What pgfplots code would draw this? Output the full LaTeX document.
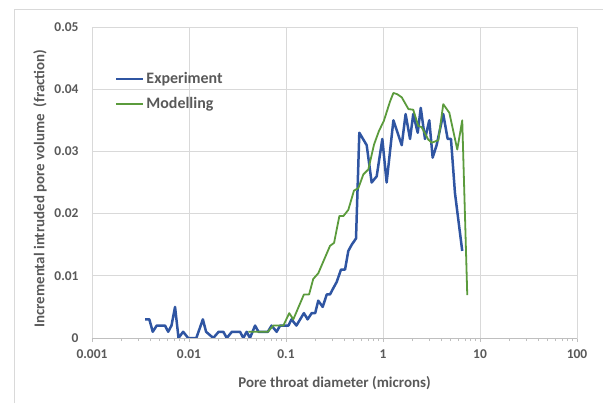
\documentclass[border=0pt]{standalone}
\usepackage{pgfplots}
\pgfplotsset{compat=1.18}
\usepackage{fontspec}
\setmainfont{Carlito}
\definecolor{txt}{HTML}{595959}
\definecolor{gridc}{HTML}{D9D9D9}
\definecolor{axc}{HTML}{BFBFBF}
\definecolor{expblue}{HTML}{2F55A2}
\definecolor{modgreen}{HTML}{5B9B3C}
\begin{document}
\begin{tikzpicture}[x=1bp,y=1bp]
\useasboundingbox (0,0) rectangle (603,403);
\draw[gridc, line width=0.75bp] (14,0) -- (14,394) -- (603,394);
\begin{axis}[at={(92bp,65bp)}, anchor=south west, scale only axis,
  width=485bp, height=311bp,
  xmode=log, xmin=0.001, xmax=100, ymin=0, ymax=0.05,
  xtick={0.001,0.01,0.1,1,10,100}, xticklabels={0.001,0.01,0.1,1,10,100},
  ytick={0,0.01,0.02,0.03,0.04,0.05}, yticklabels={0,0.01,0.02,0.03,0.04,0.05},
  scaled y ticks=false,
  grid=major, major grid style={draw=gridc, line width=0.75bp},
  axis line style={draw=gridc, line width=0.75bp},
  tick align=outside, xtick pos=bottom, ytick pos=left,
  ytick style={draw=none},
  xtick style={draw=axc, line width=0.75bp},
  major tick length=4bp, minor tick length=3bp,
  tick label style={font=\bfseries\fontsize{13.5}{15}\selectfont, text=txt},
  yticklabel style={anchor=east, xshift=-6bp},
  xticklabel style={anchor=north, yshift=-4bp},
  xlabel={Pore throat diameter (microns)},
  ylabel={Incremental intruded pore volume\ \ (fraction)},
  label style={font=\bfseries\fontsize{15}{17}\selectfont, text=txt},
  xlabel style={at={(axis description cs:0.5,-0.1447)}, anchor=center},
  ylabel style={at={(axis description cs:-0.1072,0.48)}, anchor=center},
  legend style={at={(axis description cs:0.047,0.86)}, anchor=north west,
    draw=none, fill=none, font=\bfseries\fontsize{16}{17}\selectfont, text=txt,
    row sep=8bp, inner sep=0pt},
  legend cell align=left,
  legend image code/.code={\draw[#1] (0bp,0bp) -- (27bp,0bp);},
]
\addplot[expblue, line width=2.5bp, line join=round] coordinates {
(0.00352,0.003) (0.0039,0.003) (0.00423,0.001) (0.00465,0.002) (0.00566,0.002)
(0.0061,0.001) (0.0066,0.002) (0.00718,0.005) (0.0078,0.0) (0.0087,0.001)
(0.0098,0.0) (0.0119,0.0) (0.0139,0.003) (0.0150,0.001) (0.0178,0.0)
(0.0202,0.001) (0.0226,0.001) (0.0245,0.0) (0.0277,0.001) (0.0336,0.001)
(0.0363,0.0) (0.0393,0.001) (0.0425,0.0) (0.048,0.002) (0.052,0.001)
(0.065,0.001) (0.071,0.002) (0.080,0.001) (0.087,0.002) (0.106,0.002)
(0.114,0.003) (0.128,0.002) (0.153,0.004) (0.167,0.003) (0.184,0.004)
(0.2,0.004) (0.215,0.006) (0.239,0.005) (0.263,0.007) (0.284,0.007)
(0.307,0.008) (0.333,0.009) (0.369,0.011) (0.406,0.011) (0.439,0.014)
(0.476,0.015) (0.527,0.016) (0.57,0.033) (0.679,0.031) (0.764,0.025)
(0.861,0.026) (0.984,0.032) (1.09,0.025) (1.28,0.035) (1.56,0.031)
(1.71,0.036) (1.90,0.032) (2.05,0.036) (2.28,0.033) (2.45,0.037)
(2.71,0.032) (3.0,0.035) (3.25,0.029) (3.57,0.031) (4.18,0.036)
(4.64,0.032) (5.02,0.032) (5.52,0.0233) (6.56,0.014)
};
\addlegendentry{Experiment}
\addplot[modgreen, line width=1.8bp, line join=round] coordinates {
(0.041,0.001) (0.065,0.001) (0.074,0.002) (0.094,0.002) (0.108,0.004)
(0.119,0.003) (0.153,0.007) (0.173,0.007) (0.191,0.0095) (0.215,0.0104)
(0.284,0.0148) (0.313,0.0153) (0.355,0.0196) (0.39,0.0196) (0.439,0.0206)
(0.502,0.0237) (0.557,0.0241) (0.627,0.0263) (0.706,0.0271) (0.808,0.0311)
(0.909,0.0333) (1.02,0.0349) (1.18,0.038) (1.28,0.0394) (1.40,0.0392)
(1.56,0.0387) (1.83,0.0368) (2.05,0.0367) (2.31,0.0341) (2.5,0.0339)
(2.93,0.0319) (3.18,0.0314) (3.72,0.0318) (4.18,0.0376) (4.83,0.0362)
(5.83,0.0303) (6.56,0.035) (7.39,0.0069)
};
\addlegendentry{Modelling}
\draw[axc, line width=0.75bp] (rel axis cs:0,0) -- (rel axis cs:1,0);
\end{axis}
\end{tikzpicture}
\end{document}
